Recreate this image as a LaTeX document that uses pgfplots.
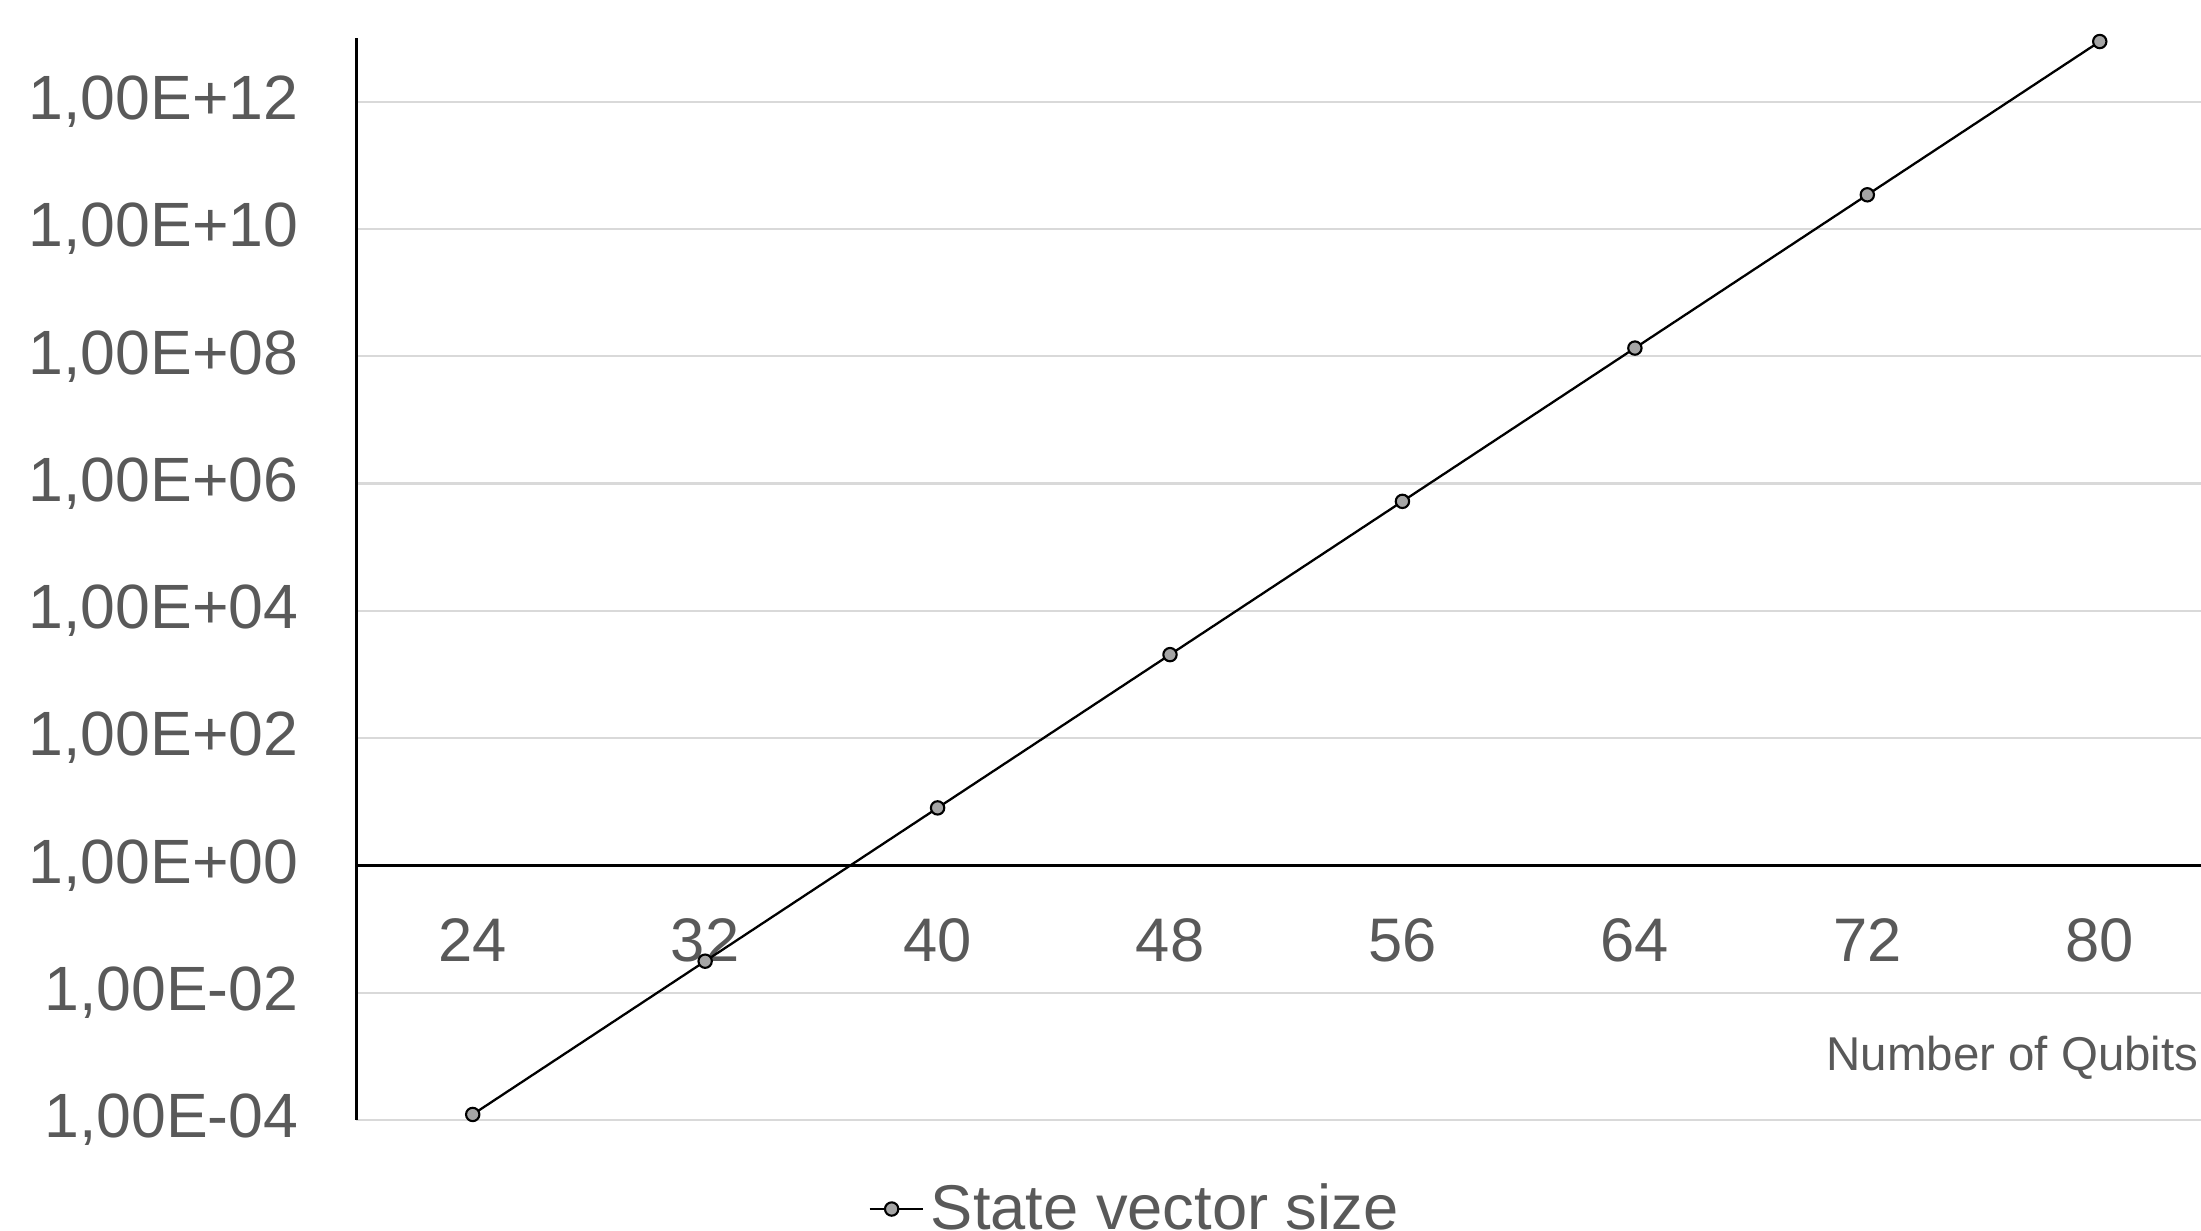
\documentclass[border=0pt]{standalone}
\usepackage{fontspec}
\setmainfont{Liberation Sans}
\usepackage{pgfplots}
\pgfplotsset{compat=1.18}
\definecolor{txt}{HTML}{595959}
\definecolor{gridc}{HTML}{D9D9D9}
\definecolor{mk}{HTML}{A5A5A5}
\begin{document}
\begin{tikzpicture}
\begin{axis}[
  at={(0,0)}, anchor=south west,
  scale only axis, width=18.595cm, height=10.82cm,
  ymode=log,
  xmin=20, xmax=84, ymin=1e-4, ymax=1e13,
  axis x line=middle, axis y line=left,
  axis line style={-, black, line width=0.65pt},
  every inner x axis line/.append style={-},
  every outer y axis line/.append style={-},
  hide obscured x ticks=false, hide obscured y ticks=false,
  xtick={24,32,40,48,56,64,72,80},
  xticklabels={24,32,40,48,56,64,72,80},
  ytick={1e-4,1e-2,1,1e2,1e4,1e6,1e8,1e10,1e12},
  yticklabels={{1,00E-04},{1,00E-02},{1,00E+00},{1,00E+02},{1,00E+04},{1,00E+06},{1,00E+08},{1,00E+10},{1,00E+12}},
  major tick length=0pt, minor tick num=0,
  ymajorgrids, xmajorgrids=false,
  grid style={gridc, line width=0.6pt},
  xticklabel style={font=\fontsize{17.5}{20}\selectfont, text=txt, anchor=center, inner sep=0pt, yshift=-0.75cm},
  yticklabel style={font=\fontsize{17.8}{20}\selectfont, text=txt, anchor=east, inner sep=0pt, xshift=-0.575cm},
  xlabel={Number of Qubits},
  xlabel style={at={(axis description cs:0.9909,0.0573)}, anchor=east, inner sep=0pt, font=\fontsize{13.5}{16}\selectfont, text=txt},
  clip=false,
  legend style={draw=none, fill=none, at={(0.275,-0.0823)}, anchor=west, inner sep=0pt,
    font=\fontsize{18}{21}\selectfont, text=txt},
  legend image code/.code={\draw[mark repeat=2,mark phase=2,#1] plot coordinates {(0cm,0cm)(0.22cm,0cm)(0.53cm,0cm)};},
]
\addplot[black, line width=0.65pt, mark=*, mark size=1.9pt, mark options={fill=mk, draw=black, line width=0.6pt}]
  coordinates {(24,1.2207e-4) (32,0.03125) (40,8) (48,2048) (56,524288) (64,1.34217728e8) (72,3.4359738368e10) (80,8.796093022208e12)};
\addlegendentry{State vector size}
\end{axis}
\pgfresetboundingbox
\path[use as bounding box] (-3.565cm,-1.11cm) rectangle (18.445cm,11.20cm);
\end{tikzpicture}
\end{document}
